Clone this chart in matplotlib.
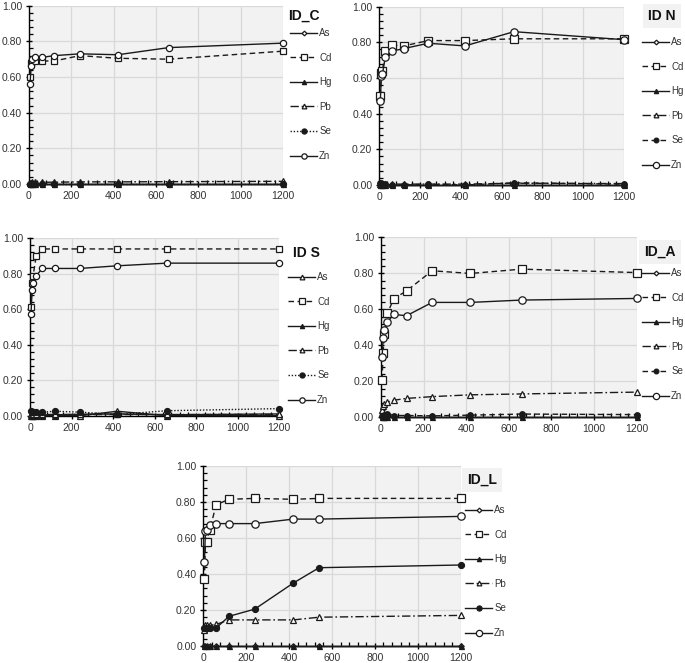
import matplotlib.pyplot as plt
from matplotlib.ticker import MultipleLocator, FormatStrFormatter

plt.rcParams['font.family'] = ['Liberation Sans Narrow', 'Liberation Sans', 'DejaVu Sans']

# sampling times (min)
time = [5, 10, 15, 30, 60, 120, 240, 420, 660, 1200]
time_L = [5, 10, 15, 30, 60, 120, 240, 420, 540, 1200]
metals = ['As', 'Cd', 'Hg', 'Pb', 'Se', 'Zn']

# ID_C
c_As = [0.0, 0.0, 0.0, 0.0, 0.0, 0.0, 0.0, 0.0, 0.0, 0.0]
c_Cd = [0.60, 0.68, 0.69, 0.69, 0.69, 0.69, 0.72, 0.705, 0.70, 0.745]
c_Hg = [0.0, 0.0, 0.0, 0.0, 0.0, 0.0, 0.0, 0.0, 0.0, 0.0]
c_Pb = [0.005, 0.008, 0.01, 0.01, 0.01, 0.01, 0.012, 0.012, 0.013, 0.015]
c_Se = [0.0, 0.0, 0.0, 0.0, 0.0, 0.0, 0.0, 0.0, 0.0, 0.0]
c_Zn = [0.56, 0.66, 0.70, 0.71, 0.71, 0.72, 0.73, 0.725, 0.765, 0.79]

# ID N
n_As = [0.0, 0.0, 0.0, 0.0, 0.0, 0.0, 0.0, 0.0, 0.0, 0.0]
n_Cd = [0.50, 0.63, 0.64, 0.75, 0.785, 0.78, 0.81, 0.81, 0.82, 0.82]
n_Hg = [0.0, 0.0, 0.0, 0.0, 0.0, 0.0, 0.0, 0.0, 0.0, 0.0]
n_Pb = [0.005, 0.005, 0.005, 0.005, 0.005, 0.005, 0.005, 0.005, 0.01, 0.008]
n_Se = [0.01, 0.012, 0.005, 0.005, 0.0, 0.0, 0.005, 0.0, 0.012, 0.005]
n_Zn = [0.47, 0.61, 0.62, 0.72, 0.75, 0.765, 0.795, 0.78, 0.86, 0.815]

# ID S
s_As = [0.0, 0.0, 0.0, 0.0, 0.0, 0.0, 0.0, 0.025, 0.0, 0.0]
s_Cd = [0.61, 0.75, 0.79, 0.90, 0.94, 0.94, 0.94, 0.94, 0.94, 0.94]
s_Hg = [0.005, 0.005, 0.005, 0.005, 0.005, 0.005, 0.008, 0.01, 0.005, 0.01]
s_Pb = [0.01, 0.01, 0.01, 0.01, 0.01, 0.01, 0.01, 0.01, 0.01, 0.01]
s_Se = [0.025, 0.02, 0.02, 0.02, 0.02, 0.025, 0.02, 0.007, 0.028, 0.04]
s_Zn = [0.575, 0.71, 0.75, 0.79, 0.83, 0.83, 0.83, 0.845, 0.86, 0.86]

# ID_A
a_As = [0.0, 0.0, 0.0, 0.0, 0.0, 0.0, 0.0, 0.0, 0.0, 0.0]
a_Cd = [0.21, 0.355, 0.465, 0.578, 0.66, 0.703, 0.815, 0.80, 0.824, 0.805]
a_Hg = [0.0, 0.0, 0.0, 0.0, 0.0, 0.0, 0.0, 0.0, 0.0, 0.0]
a_Pb = [0.04, 0.065, 0.075, 0.085, 0.095, 0.105, 0.115, 0.125, 0.13, 0.14]
a_Se = [0.005, 0.01, 0.015, 0.02, 0.01, 0.01, 0.008, 0.012, 0.018, 0.015]
a_Zn = [0.335, 0.44, 0.485, 0.53, 0.572, 0.565, 0.639, 0.639, 0.652, 0.661]

# ID_L
l_As = [0.0, 0.0, 0.0, 0.0, 0.0, 0.0, 0.0, 0.0, 0.0, 0.0]
l_Cd = [0.37, 0.58, 0.58, 0.645, 0.785, 0.815, 0.82, 0.815, 0.82, 0.82]
l_Hg = [0.0, 0.0, 0.0, 0.0, 0.0, 0.0, 0.0, 0.0, 0.0, 0.0]
l_Pb = [0.09, 0.115, 0.115, 0.115, 0.12, 0.145, 0.145, 0.145, 0.16, 0.17]
l_Se = [0.10, 0.10, 0.10, 0.10, 0.10, 0.165, 0.205, 0.35, 0.435, 0.45]
l_Zn = [0.465, 0.64, 0.645, 0.67, 0.68, 0.68, 0.68, 0.705, 0.705, 0.72]

LC = '#1a1a1a'
DASH = (0, (4, 2.5))
DASHDOT = (0, (6, 2, 1.2, 2))
DOT = (0, (1, 1.3))

# default style per metal: linestyle, marker, filled, markersize
base_style = {
    'As': ('-', 'D', False, 2.8),
    'Cd': (DASH, 's', False, 4.3),
    'Hg': ('-', '^', True, 3.6),
    'Pb': (DASHDOT, '^', False, 4),
    'Se': (DOT, 'o', True, 4.3),
    'Zn': ('-', 'o', False, 4.5),
}

W, H = 685, 663
fig = plt.figure(figsize=(W / 100, H / 100), dpi=100)


def add_panel(box, title, x, series, overrides, title_box, legend_xy, big=False):
    left, right, top, bottom = box
    ax = fig.add_axes([left / W, 1 - bottom / H, (right - left) / W, (bottom - top) / H])
    ax.set_facecolor('#f2f2f2')
    for m in metals:
        ls, mk, filled, ms = overrides.get(m, base_style[m])
        if big and m in ('Cd', 'Zn'):
            ms = 5.3
        ax.plot(x, series[m], linestyle=ls, color=LC, lw=1.0, marker=mk, markersize=ms,
                markerfacecolor=LC if filled else 'white', markeredgecolor=LC,
                markeredgewidth=0.9, label=m, clip_on=False, zorder=3)
    ax.set_xlim(0, 1200)
    ax.set_ylim(0, 1.0)
    ax.xaxis.set_major_locator(MultipleLocator(200))
    ax.xaxis.set_minor_locator(MultipleLocator(40))
    ax.yaxis.set_major_locator(MultipleLocator(0.2))
    ax.yaxis.set_minor_locator(MultipleLocator(0.04))
    ax.yaxis.set_major_formatter(FormatStrFormatter('%.2f'))
    ax.grid(True, which='major', color='#d9d9d9', lw=0.9)
    ax.set_axisbelow(True)
    for s in ('top', 'right'):
        ax.spines[s].set_visible(False)
    for s in ('left', 'bottom'):
        ax.spines[s].set_color('black')
        ax.spines[s].set_linewidth(1.0)
    ax.tick_params(which='major', direction='inout', length=5, width=1.0,
                   labelsize=7.5, colors='black', labelcolor='#333333', pad=2.5)
    ax.tick_params(which='minor', direction='in', length=3, width=0.9)

    tx, ty = title_box
    bbox = dict(boxstyle='square,pad=0.35', fc='#f2f2f2', ec='none') if title in ('ID N', 'ID_A', 'ID_L') else None
    fig.text(tx / W, 1 - ty / H, title, fontsize=10, fontweight='bold', ha='center', va='center',
             color='#111111', bbox=bbox)

    lx, ly = legend_xy
    leg = ax.legend(loc='upper left', bbox_to_anchor=(lx / W, 1 - ly / H),
                    bbox_transform=fig.transFigure, frameon=False, fontsize=7,
                    handlelength=2.8, handletextpad=0.2, labelspacing=1.5,
                    borderpad=0, borderaxespad=0, markerscale=0.85)
    for t in leg.get_texts():
        t.set_color('#333333')
    return ax


add_panel((29, 283, 5.7, 184), 'ID_C', time,
          {'As': c_As, 'Cd': c_Cd, 'Hg': c_Hg, 'Pb': c_Pb, 'Se': c_Se, 'Zn': c_Zn},
          {}, (304, 16), (290, 28))
add_panel((379.3, 624, 6.7, 185), 'ID N', time,
          {'As': n_As, 'Cd': n_Cd, 'Hg': n_Hg, 'Pb': n_Pb, 'Se': n_Se, 'Zn': n_Zn},
          {'Se': (DASH, 'o', True, 4)}, (662, 16), (642, 37), big=True)
add_panel((30, 279.3, 238.3, 415.7), 'ID S', time,
          {'As': s_As, 'Cd': s_Cd, 'Hg': s_Hg, 'Pb': s_Pb, 'Se': s_Se, 'Zn': s_Zn},
          {'As': ('-', '^', False, 4)}, (306, 253), (288, 272))
add_panel((381, 636.7, 237.5, 417.3), 'ID_A', time,
          {'As': a_As, 'Cd': a_Cd, 'Hg': a_Hg, 'Pb': a_Pb, 'Se': a_Se, 'Zn': a_Zn},
          {'Se': (DASH, 'o', True, 4)}, (660, 252), (642, 268), big=True)
add_panel((203.3, 460.7, 466, 646), 'ID_L', time_L,
          {'As': l_As, 'Cd': l_Cd, 'Hg': l_Hg, 'Pb': l_Pb, 'Se': l_Se, 'Zn': l_Zn},
          {'Se': ('-', 'o', True, 4.3)}, (482, 480), (465, 505), big=True)

fig.savefig('out.png', dpi=100, facecolor='white')
